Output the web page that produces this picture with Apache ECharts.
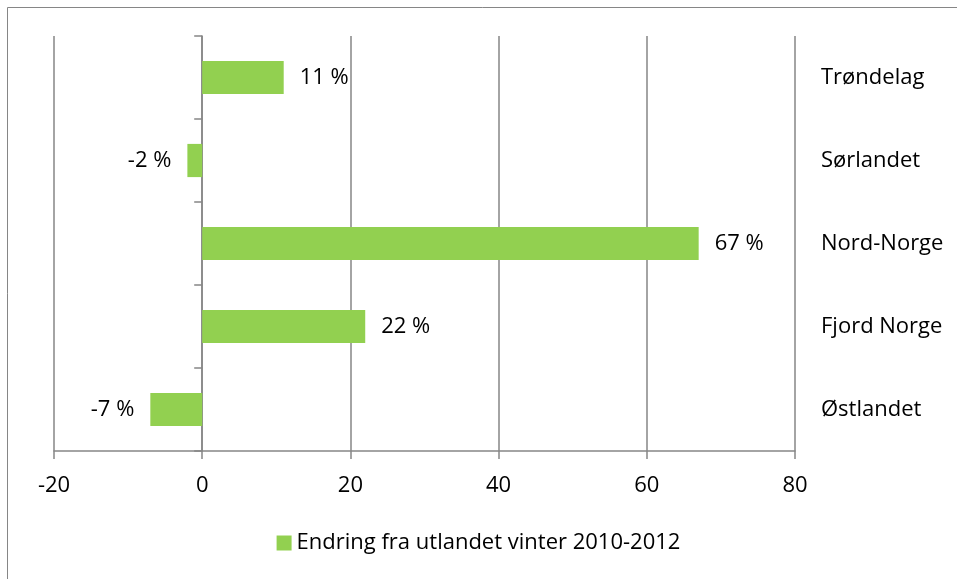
<!DOCTYPE html>
<html><head><meta charset="utf-8">
<script src="https://cdn.jsdelivr.net/npm/echarts@6/dist/echarts.min.js"></script>
<style>html,body{margin:0;padding:0;background:#fff}#c{width:957px;height:579px}</style>
</head><body><div id="c"></div>
<script>
const categories = ['Østlandet', 'Fjord Norge', 'Nord-Norge', 'Sørlandet', 'Trøndelag'];
const values = [-7, 22, 67, -2, 11];
const seriesName = 'Endring fra utlandet vinter 2010-2012';
const xTicks = { min: -20, max: 80, interval: 20 };

const font = '"Open Sans", "Noto Sans", sans-serif';
const fs = 22;
const chart = echarts.init(document.getElementById('c'));
chart.setOption({
  animation: false,
  graphic: [{ type: 'rect', shape: { x: 7.5, y: 7.5, width: 960, height: 600 }, style: { fill: 'none', stroke: '#868686', lineWidth: 1 }, silent: true }],
  grid: { left: 54, right: 162, top: 36, bottom: 128, containLabel: false },
  legend: {
    bottom: 20, left: 'center', itemWidth: 15, itemHeight: 15, icon: 'rect',
    textStyle: { fontFamily: font, fontSize: fs, color: '#000' }, itemGap: 7,
    data: [seriesName]
  },
  xAxis: {
    type: 'value', min: xTicks.min, max: xTicks.max, interval: xTicks.interval,
    axisLine: { show: true, lineStyle: { color: '#868686', width: 1.5 } },
    axisTick: { show: true, length: 8, lineStyle: { color: '#868686', width: 1.5 } },
    splitLine: { show: true, lineStyle: { color: '#868686', width: 1.5 } },
    axisLabel: { margin: 24, fontFamily: font, fontSize: fs, color: '#000' }
  },
  yAxis: [{
    type: 'category', data: categories,
    axisLine: { show: true, onZero: true, lineStyle: { color: '#868686', width: 1.5 } },
    axisTick: { show: true, length: 8, lineStyle: { color: '#868686', width: 1.5 } },
    axisLabel: { show: false }
  }, {
    type: 'category', data: categories, position: 'right',
    axisLine: { show: false }, axisTick: { show: false },
    axisLabel: { margin: 26, fontFamily: font, fontSize: fs, color: '#000', align: 'left' }
  }],
  series: [{
    name: seriesName, type: 'bar', yAxisIndex: 0, barWidth: '40%',
    itemStyle: { color: '#92D050' },
    data: values.map(v => ({
      value: v,
      label: { show: true, position: v < 0 ? 'left' : 'right', distance: 16,
        formatter: p => p.value + ' %', fontFamily: font, fontSize: fs, color: '#000' }
    }))
  }]
});
</script></body></html>
